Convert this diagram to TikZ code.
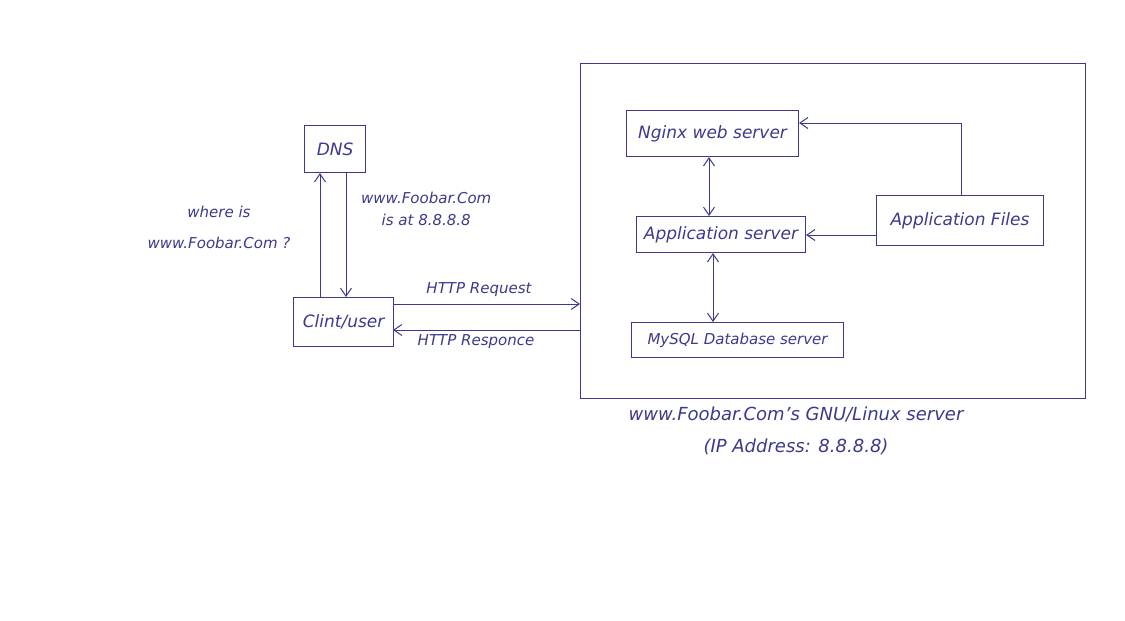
\documentclass[tikz,border=0pt]{standalone}
\usepackage{fontspec}
\setmainfont{DejaVu Sans}
\usetikzlibrary{arrows.meta}
\definecolor{ink}{HTML}{3C3A8E}
\tikzset{
  box/.style={draw=ink, line width=1.1pt, minimum height=#1, inner sep=3pt, text=ink, font=\itshape\fontsize{17}{19}\selectfont},
  box/.default=46pt,
  conn/.style={draw=ink, line width=1pt, -{Straight Barb[length=8pt,width=11pt]}},
  biconn/.style={draw=ink, line width=1pt, {Straight Barb[length=8pt,width=11pt]}-{Straight Barb[length=8pt,width=11pt]}},
  lbl/.style={text=ink, font=\itshape\fontsize{15}{22}\selectfont, align=center, inner sep=1pt}
}
\begin{document}
\begin{tikzpicture}[x=1pt,y=-1pt]
\useasboundingbox[fill=white] (0,0) rectangle (1125,621);
% big server frame
\node[draw=ink, line width=1.1pt, minimum width=505pt, minimum height=335pt, anchor=north west] (srv) at (580,63) {};
% boxes
\node[box=47pt, minimum width=61pt, anchor=north west] (dns) at (304,125) {DNS};
\node[box=49pt, minimum width=100pt, anchor=north west] (cli) at (293,297) {Clint/user};
\node[box=46pt, minimum width=172pt, anchor=north west] (ngx) at (626,110) {Nginx web server};
\node[box=36pt, minimum width=169pt, anchor=north west] (app) at (636,216) {Application server};
\node[box=35pt, minimum width=212pt, anchor=north west, font=\itshape\fontsize{15}{17}\selectfont] (sql) at (631,322) {MySQL Database server};
\node[box=50pt, minimum width=167pt, anchor=north west] (files) at (876,195) {Application Files};
% DNS arrows
\draw[conn] (cli.north west -| 320,0) -- (dns.south west -| 320,0);
\draw[conn] (dns.south west -| 346,0) -- (cli.north west -| 346,0);
\node[lbl, font=\itshape\fontsize{15}{31}\selectfont] (q) at (219,227) {where is\\www.Foobar.Com ?};
\node[lbl, anchor=west] (a) at (360,209) {www.Foobar.Com\\is at 8.8.8.8};
% HTTP
\coordinate (reqS) at (393,304);
\coordinate (resE) at (393,330);
\draw[conn] (reqS) -- (srv.west |- reqS);
\draw[conn] (srv.west |- resE) -- (resE);
\node[lbl] (reql) at (479,290) {HTTP Request};
\node[lbl] (resl) at (476,342) {HTTP Responce};
% inside server
\draw[biconn] (ngx.south -| 709,0) -- (app.north -| 709,0);
\draw[biconn] (app.south -| 713,0) -- (sql.north -| 713,0);
\draw[conn] (files.west |- 0,235) -- (app.east |- 0,235);
\coordinate (bend) at (961,123);
\draw[conn] (files.north -| bend) -- (bend) -- (ngx.east |- bend);
% caption
\node[lbl, font=\itshape\fontsize{18}{32}\selectfont] (cap) at (796,431) {www.Foobar.Com's GNU/Linux server\\(IP Address: 8.8.8.8)};
\end{tikzpicture}
\end{document}
